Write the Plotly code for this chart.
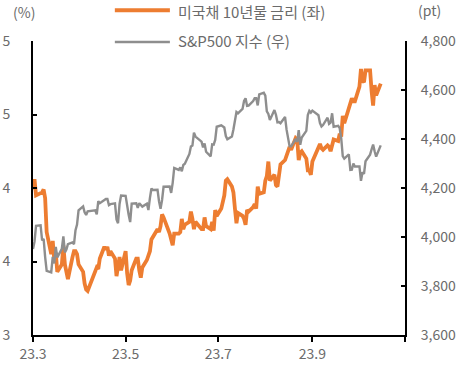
import plotly.graph_objects as go

# Trading days (2023) by month
trading_days = {
    3: [1, 2, 3, 6, 7, 8, 9, 10, 13, 14, 15, 16, 17, 20, 21, 22, 23, 24, 27, 28, 29, 30, 31],
    4: [3, 4, 5, 6, 10, 11, 12, 13, 14, 17, 18, 19, 20, 21, 24, 25, 26, 27, 28],
    5: [1, 2, 3, 4, 5, 8, 9, 10, 11, 12, 15, 16, 17, 18, 19, 22, 23, 24, 25, 26, 30, 31],
    6: [1, 2, 5, 6, 7, 8, 9, 12, 13, 14, 15, 16, 20, 21, 22, 23, 26, 27, 28, 29, 30],
    7: [3, 5, 6, 7, 10, 11, 12, 13, 14, 17, 18, 19, 20, 21, 24, 25, 26, 27, 28, 31],
    8: [1, 2, 3, 4, 7, 8, 9, 10, 11, 14, 15, 16, 17, 18, 21, 22, 23, 24, 25, 28, 29, 30, 31],
    9: [1, 5, 6, 7, 8, 11, 12, 13, 14, 15, 18, 19, 20, 21, 22, 25, 26, 27, 28, 29],
    10: [2, 3, 4, 5, 6, 9, 10, 11, 12, 13, 16],
}
dates = [f"2023-{m:02d}-{d:02d}" for m, ds in trading_days.items() for d in ds]

# US 10Y Treasury yield (%)
ust10y = [
    3.99, 4.06, 3.95, 3.96, 3.97, 3.99, 3.93, 3.70, 3.55, 3.64, 3.51, 3.56, 3.43, 3.48, 3.61, 3.48, 3.42, 3.38, 3.53, 3.57, 3.57, 3.55, 3.48,
    3.43, 3.35, 3.31, 3.30, 3.41, 3.43, 3.46, 3.45, 3.52, 3.60, 3.58, 3.60, 3.54, 3.57, 3.52, 3.40, 3.45, 3.53, 3.44,
    3.57, 3.42, 3.34, 3.37, 3.44, 3.52, 3.52, 3.44, 3.39, 3.46, 3.51, 3.54, 3.57, 3.65, 3.67, 3.72, 3.70, 3.74, 3.82, 3.80, 3.69, 3.64,
    3.61, 3.69, 3.69, 3.70, 3.79, 3.72, 3.75, 3.77, 3.84, 3.79, 3.72, 3.77, 3.72, 3.72, 3.80, 3.74, 3.72, 3.77, 3.71, 3.85, 3.81,
    3.86, 3.95, 4.05, 4.06, 4.01, 3.97, 3.86, 3.76, 3.83, 3.81, 3.79, 3.75, 3.85, 3.84, 3.87, 3.89, 3.86, 4.01, 3.96, 3.97,
    4.05, 4.08, 4.18, 4.05, 4.09, 4.02, 4.01, 4.11, 4.16, 4.19, 4.22, 4.26, 4.28, 4.26, 4.34, 4.33, 4.19, 4.24, 4.25, 4.20, 4.12, 4.12, 4.09,
    4.18, 4.27, 4.30, 4.27, 4.26, 4.29, 4.28, 4.25, 4.29, 4.33, 4.32, 4.37, 4.35, 4.49, 4.44, 4.54, 4.56, 4.61, 4.59, 4.59,
    4.69, 4.81, 4.73, 4.72, 4.80, 4.80, 4.66, 4.56, 4.70, 4.63, 4.71,
]

# S&P 500 index (pt)
spx = [
    3951, 3981, 4046, 4048, 3986, 3992, 3918, 3862, 3856, 3919, 3892, 3960, 3917, 3952, 4003, 3937, 3949, 3971, 3978, 3971, 4028, 4051, 4109,
    4125, 4101, 4090, 4105, 4109, 4109, 4092, 4146, 4138, 4151, 4155, 4155, 4130, 4134, 4137, 4072, 4056, 4135, 4169,
    4168, 4120, 4091, 4061, 4136, 4138, 4119, 4138, 4131, 4124, 4136, 4110, 4159, 4198, 4192, 4193, 4146, 4115, 4151, 4205, 4206, 4180,
    4221, 4282, 4274, 4284, 4268, 4294, 4299, 4339, 4369, 4373, 4426, 4410, 4389, 4366, 4382, 4348, 4329, 4378, 4377, 4396, 4450,
    4456, 4447, 4412, 4399, 4410, 4439, 4472, 4510, 4505, 4523, 4555, 4566, 4535, 4536, 4555, 4567, 4567, 4537, 4582, 4589,
    4577, 4513, 4502, 4478, 4518, 4499, 4468, 4469, 4464, 4490, 4438, 4404, 4370, 4370, 4400, 4388, 4436, 4376, 4406, 4433, 4498, 4515, 4508,
    4516, 4497, 4465, 4451, 4457, 4487, 4462, 4467, 4505, 4450, 4454, 4444, 4402, 4330, 4320, 4337, 4274, 4275, 4300, 4288,
    4288, 4229, 4264, 4258, 4309, 4336, 4358, 4377, 4350, 4328, 4374,
]

x_tickvals = ["2023-03-01", "2023-05-01", "2023-07-01", "2023-09-01", "2023-11-01"]
x_ticktext = ["23.3", "23.5", "23.7", "23.9", ""]
left_tickvals = [3.0, 3.5, 4.0, 4.5, 5.0]
left_ticktext = ["3", "4", "4", "5", "5"]
right_tickvals = [3600, 3800, 4000, 4200, 4400, 4600, 4800]

name_ust = "미국채 10년물 금리 (좌)"
name_spx = "S&P500 지수 (우)"

ORANGE = "#ED7D31"
GRAY = "#8E8E8E"
TXT = "#6b6b6b"
FONT = "Noto Sans CJK KR"

fig = go.Figure()
fig.add_trace(go.Scatter(x=dates, y=ust10y, name=name_ust, mode="lines",
                         line=dict(color=ORANGE, width=3.8), yaxis="y"))
fig.add_trace(go.Scatter(x=dates, y=spx, name=name_spx, mode="lines",
                         line=dict(color=GRAY, width=2.4), yaxis="y2"))

axis_common = dict(showgrid=False, zeroline=False, showline=True, linecolor="black",
                   linewidth=2, tickcolor="black", tickwidth=2, automargin=False,
                   tickfont=dict(family=FONT, size=14, color=TXT))

fig.update_layout(
    width=469, height=385,
    margin=dict(l=33, r=64, t=41, b=50, autoexpand=False),
    paper_bgcolor="white", plot_bgcolor="white",
    showlegend=False,
    font=dict(family=FONT, color=TXT),
    xaxis=dict(type="date", range=["2023-03-01", "2023-11-01"],
               tickmode="array", tickvals=x_tickvals, ticktext=x_ticktext,
               ticks="outside", ticklen=5, **axis_common),
    yaxis=dict(range=[3, 5], tickmode="array", tickvals=left_tickvals,
               ticktext=left_ticktext, ticks="inside", ticklen=4,
               ticklabelstandoff=18, **axis_common),
    yaxis2=dict(range=[3600, 4800], overlaying="y", side="right",
                tickmode="array", tickvals=right_tickvals, tickformat=",",
                ticks="inside", ticklen=4, ticklabelstandoff=11, **axis_common),
)

# Manual legend + unit labels
legend_items = [(name_ust, ORANGE, 4, 1.105, 1.102), (name_spx, GRAY, 2.5, 0.997, 1.003)]
for label, color, w, yline, ytext in legend_items:
    fig.add_shape(type="line", xref="paper", yref="paper", x0=0.220, x1=0.368,
                  y0=yline, y1=yline, line=dict(color=color, width=w))
    fig.add_annotation(xref="paper", yref="paper", x=0.384, y=ytext, text=label,
                       showarrow=False, xanchor="left", yanchor="middle",
                       font=dict(family=FONT, size=15, color=TXT))

fig.add_annotation(xref="paper", yref="paper", x=-0.0255, y=1.099, text="(%)",
                   showarrow=False, xanchor="center", yanchor="middle",
                   font=dict(family=FONT, size=14, color=TXT))
fig.add_annotation(xref="paper", yref="paper", x=1.067, y=1.105, text="(pt)",
                   showarrow=False, xanchor="center", yanchor="middle",
                   font=dict(family=FONT, size=14, color=TXT))

fig.write_html("out.html", config={"displayModeBar": False},
               post_script="document.body.style.margin='0';")
